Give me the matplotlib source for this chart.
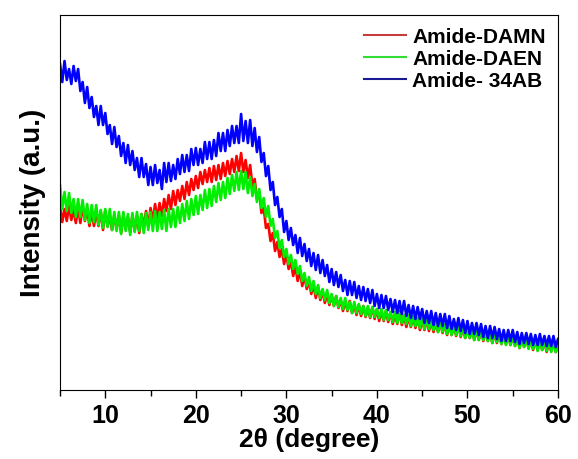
import numpy as np
import matplotlib
matplotlib.use("Agg")
import matplotlib.pyplot as plt
from matplotlib.ticker import MultipleLocator

# 2-theta grid, 0.25 degree steps from 5 to 60
two_theta = np.arange(5, 60.001, 0.25)

# intensities (a.u.), one row per degree
amide_damn = [
    184, 168, 181, 169, 184, 170, 180, 167, 182, 167, 184, 169,
    181, 164, 178, 164, 178, 164, 179, 160, 179, 164, 174, 160,
    175, 161, 175, 157, 176, 161, 173, 158, 175, 159, 175, 157,
    176, 163, 179, 164, 182, 169, 186, 171, 187, 174, 191, 179,
    195, 181, 199, 185, 200, 189, 204, 191, 208, 195, 211, 200,
    214, 202, 218, 206, 220, 208, 222, 208, 224, 210, 225, 211,
    227, 214, 229, 216, 231, 218, 234, 219, 237, 218, 230, 212,
    225, 204, 211, 191, 198, 177, 182, 162, 166, 149, 157, 139,
    148, 133, 141, 126, 136, 121, 129, 114, 123, 109, 119, 104,
    114, 101, 109, 96, 105, 92, 103, 90, 99, 87, 96, 85,
    95, 84, 94, 82, 90, 79, 89, 79, 89, 77, 85, 75,
    85, 74, 84, 73, 82, 72, 83, 71, 81, 69, 79, 69,
    79, 68, 78, 66, 76, 66, 79, 65, 75, 63, 73, 63,
    73, 62, 72, 60, 70, 60, 70, 59, 69, 58, 67, 58,
    68, 57, 66, 55, 65, 55, 65, 54, 67, 53, 62, 52,
    62, 52, 60, 50, 60, 50, 60, 49, 59, 49, 57, 47,
    57, 47, 57, 46, 56, 46, 54, 45, 54, 44, 54, 42,
    53, 43, 51, 42, 51, 40, 51, 40, 50, 40, 48, 38,
    48, 39, 48, 38, 45,
]

amide_daen = [
    205, 181, 198, 179, 197, 177, 191, 173, 191, 173, 190, 170,
    186, 167, 185, 168, 185, 165, 180, 162, 181, 163, 181, 160,
    178, 159, 178, 156, 178, 159, 176, 155, 177, 158, 178, 159,
    176, 157, 177, 160, 178, 159, 179, 159, 178, 161, 180, 159,
    181, 163, 181, 163, 183, 167, 186, 169, 189, 171, 191, 175,
    194, 176, 195, 180, 200, 182, 201, 184, 204, 188, 207, 190,
    208, 192, 212, 196, 215, 199, 218, 200, 219, 201, 218, 197,
    213, 194, 206, 188, 201, 182, 192, 173, 184, 164, 171, 152,
    159, 142, 150, 133, 141, 126, 135, 121, 130, 116, 124, 109,
    117, 104, 113, 99, 109, 96, 105, 92, 101, 90, 100, 87,
    96, 84, 94, 83, 92, 81, 92, 80, 88, 77, 88, 77,
    86, 76, 84, 74, 84, 73, 83, 73, 81, 72, 81, 70,
    80, 70, 78, 68, 78, 67, 77, 67, 75, 66, 75, 64,
    74, 64, 72, 62, 72, 61, 71, 61, 69, 60, 69, 58,
    68, 58, 66, 56, 66, 55, 65, 55, 63, 54, 63, 52,
    62, 52, 60, 50, 61, 50, 60, 50, 58, 49, 58, 47,
    58, 48, 56, 46, 56, 45, 55, 45, 53, 44, 53, 42,
    53, 43, 51, 41, 51, 41, 50, 39, 49, 40, 49, 39,
    49, 38, 47, 38, 44,
]

amide_34ab = [
    326, 308, 329, 310, 321, 306, 324, 309, 321, 299, 308, 287,
    303, 282, 293, 273, 284, 265, 284, 265, 277, 256, 265, 246,
    263, 243, 254, 234, 247, 227, 245, 225, 239, 220, 232, 213,
    232, 213, 226, 205, 223, 205, 225, 207, 220, 201, 227, 208,
    227, 209, 225, 211, 231, 216, 235, 218, 235, 219, 241, 225,
    242, 225, 241, 227, 248, 231, 248, 231, 250, 234, 257, 239,
    257, 239, 260, 244, 264, 247, 264, 247, 276, 249, 269, 247,
    270, 244, 262, 238, 253, 228, 237, 214, 224, 200, 208, 185,
    193, 173, 181, 158, 169, 150, 162, 145, 155, 137, 152, 134,
    146, 129, 141, 124, 137, 120, 135, 117, 130, 114, 125, 108,
    121, 105, 118, 103, 115, 99, 110, 95, 109, 95, 108, 92,
    104, 90, 103, 89, 101, 87, 100, 84, 96, 82, 95, 82,
    94, 80, 91, 78, 90, 77, 89, 76, 89, 74, 85, 72,
    84, 71, 83, 71, 81, 67, 79, 67, 79, 65, 77, 64,
    76, 64, 76, 62, 74, 61, 71, 60, 72, 59, 70, 57,
    69, 56, 67, 56, 67, 55, 66, 53, 64, 52, 64, 52,
    63, 51, 61, 49, 60, 49, 60, 49, 60, 48, 58, 46,
    57, 47, 57, 46, 56, 45, 55, 45, 56, 45, 54, 44,
    54, 44, 54, 43, 51,
]

labels = ["Amide-DAMN", "Amide-DAEN", "Amide- 34AB"]
colors = ["#ff0000", "#00ee00", "#0000ff"]
legend_colors = ["#c43c3c", "#33dd33", "#1a1a99"]

plt.rcParams['font.family'] = ['Liberation Sans', 'DejaVu Sans']
plt.rcParams['font.weight'] = 'bold'

fig = plt.figure(figsize=(5.78, 4.59), dpi=100)
ax = fig.add_axes([0.1038, 0.1503, 0.8616, 0.817])

for y, lab, c in zip([amide_damn, amide_daen, amide_34ab], labels, colors):
    ax.plot(two_theta, y, color=c, lw=1.9, label=lab)

ax.set_xlim(5, 60)
ax.set_ylim(0, 375)
ax.xaxis.set_major_locator(MultipleLocator(10))
ax.xaxis.set_minor_locator(MultipleLocator(5))
ax.set_yticks([])
ax.tick_params(axis='x', which='major', direction='out', length=6, width=1,
               labelsize=18, pad=4, top=False)
ax.tick_params(axis='x', which='minor', direction='out', length=4, width=1, top=False)
for lbl in ax.get_xticklabels():
    lbl.set_fontweight('bold')

ax.set_xlabel("2θ (degree)", fontsize=19, fontweight='bold', labelpad=0)
ax.set_ylabel("Intensity (a.u.)", fontsize=20, fontweight='bold', labelpad=10)

leg = ax.legend(loc='upper right', frameon=False, fontsize=15,
                handlelength=2.0, handletextpad=0.3, labelspacing=0.15,
                borderaxespad=0.2)
for h, c in zip(leg.get_lines(), legend_colors):
    h.set_linewidth(1.5)
    h.set_color(c)
for t in leg.get_texts():
    t.set_fontweight('bold')

fig.savefig("out.png", dpi=100)
